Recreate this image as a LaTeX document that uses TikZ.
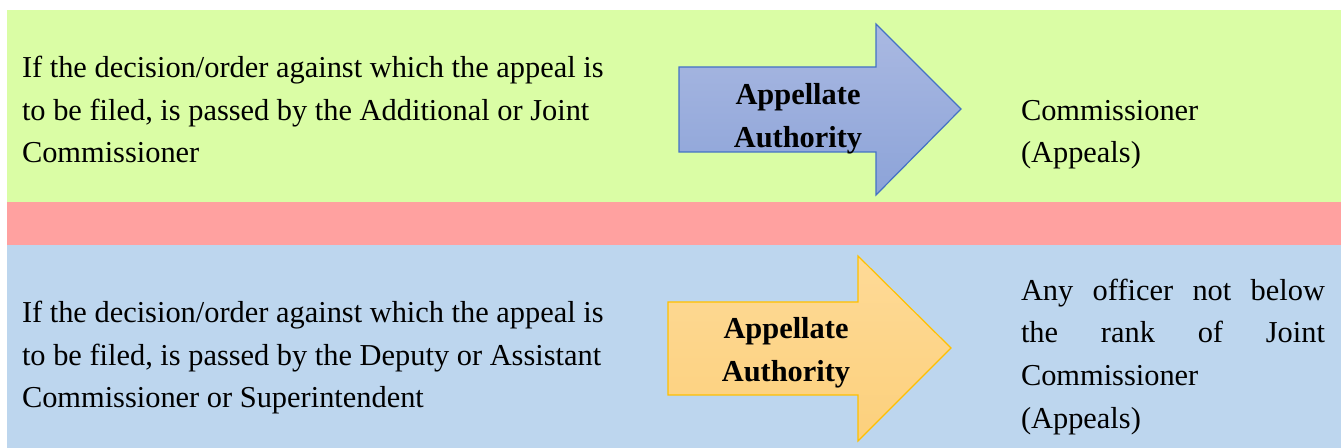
\documentclass[tikz,border=0pt]{standalone}
\usepackage{fontspec}
\setmainfont{Liberation Serif}
\definecolor{bandgreen}{HTML}{DAFDA5}
\definecolor{bandred}{HTML}{FFA1A0}
\definecolor{bandblue}{HTML}{BDD6EE}
\definecolor{arrblueT}{HTML}{AAB9E2}
\definecolor{arrblueB}{HTML}{8CA3D8}
\definecolor{arrblueD}{HTML}{4472C4}
\definecolor{arrorT}{HTML}{FEDA97}
\definecolor{arrorB}{HTML}{FCD07C}
\definecolor{arrorD}{HTML}{FFC000}
\tikzset{
  bodytext/.style={anchor=base west, inner sep=0pt, outer sep=0pt,
    font=\fontsize{22.8}{31.9}\selectfont, align=left},
  labeltext/.style={anchor=base, inner sep=0pt, outer sep=0pt,
    font=\fontsize{22.8}{32.5}\selectfont\bfseries, align=center},
  bluearrow/.style={draw=arrblueD, line width=0.9pt, top color=arrblueT, bottom color=arrblueB},
  orarrow/.style={draw=arrorD, line width=0.9pt, top color=arrorT, bottom color=arrorB},
}
\begin{document}
\begin{tikzpicture}[x=0.75pt,y=-0.75pt]
\useasboundingbox (0,0) rectangle (1341,448);
\fill[white] (0,0) rectangle (1341,448);
% bands
\fill[bandgreen] (7,10) rectangle (1341,202);
\fill[bandred] (7,202) rectangle (1341,245);
\fill[bandblue] (7,245) rectangle (1341,448);
% arrows
\path[bluearrow] (679,67) -- (876,67) -- (876,24) -- (961,109) -- (876,195) -- (876,152) -- (679,152) -- cycle;
\path[orarrow] (668,302) -- (858,302) -- (858,256) -- (951,348) -- (858,441) -- (858,395) -- (668,395) -- cycle;
% texts (anchored at the baseline of the last line)
\node[bodytext] (leftA) at (22,163) {If the decision/order against which the appeal is\\to be filed, is passed by the Additional or Joint\\Commissioner};
\node[labeltext] (labA) at (798,148) {Appellate\\Authority};
\node[bodytext] (rightA) at (1021,163) {Commissioner\\(Appeals)};
\node[bodytext] (leftB) at (22,408) {If the decision/order against which the appeal is\\to be filed, is passed by the Deputy or Assistant\\Commissioner or Superintendent};
\node[labeltext] (labB) at (786,382) {Appellate\\Authority};
\node[bodytext] (rightB) at (1021,428) {\makebox[228pt][s]{Any officer not below}\\\makebox[228pt][s]{the rank of Joint}\\Commissioner\\(Appeals)};
\end{tikzpicture}
\end{document}
